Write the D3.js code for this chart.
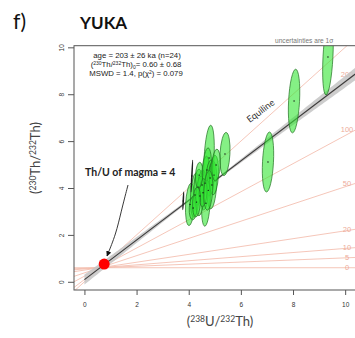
<!DOCTYPE html>
<html>
<head>
<meta charset="utf-8">
<script src="https://cdn.jsdelivr.net/npm/d3@7"></script>
<style>
  body { margin: 0; background: #fff; }
  .tick-label { font-family: "Liberation Sans", Arial, sans-serif; font-size: 6.5px; fill: #333; }
  .annot { font-family: "Liberation Sans", Arial, sans-serif; font-size: 7.8px; fill: #222; }
  .axis-title { font-family: Lato, "Open Sans", sans-serif; font-size: 13px; fill: #444; }
  .iso-label { font-family: "Liberation Sans", Arial, sans-serif; font-size: 7.5px; fill: #eeac9a; }
</style>
</head>
<body>
<div id="chart"></div>
<script>
// Th-U isochron (230Th/232Th vs 238U/232Th), YUKA

const xTicks = [0, 2, 4, 6, 8, 10];
const yTicks = [0, 2, 4, 6, 8, 10];

// reference isochron ages in ka
const isoAges = [0, 5, 10, 20, 50, 100, 200];

// fitted isochron
const fitAge = 203;        // ka
const fitInitRatio = 0.60; // (230Th/232Th)0
const magmaThU = 4;

// analyses: centre and 1 sigma half widths
const ellipses = [
    { x: 9.34, y: 9.59, sx: 0.19, sy: 1.62 },
    { x: 8.04, y: 7.71, sx: 0.21, sy: 1.36 },
    { x: 7.04, y: 5.11, sx: 0.21, sy: 1.28 },
    { x: 5.39, y: 5.45, sx: 0.19, sy: 0.92 },
    { x: 4.78, y: 5.28, sx: 0.19, sy: 1.40 },
    { x: 4.05, y: 3.30, sx: 0.17, sy: 0.90 },
    { x: 4.24, y: 3.70, sx: 0.17, sy: 0.94 },
    { x: 4.36, y: 4.04, sx: 0.16, sy: 0.77 },
    { x: 4.51, y: 4.13, sx: 0.15, sy: 0.64 },
    { x: 4.63, y: 4.21, sx: 0.17, sy: 1.15 },
    { x: 4.70, y: 4.77, sx: 0.17, sy: 0.94 },
    { x: 4.82, y: 4.43, sx: 0.16, sy: 0.77 },
    { x: 4.89, y: 4.13, sx: 0.18, sy: 1.02 },
    { x: 4.66, y: 3.35, sx: 0.16, sy: 0.98 },
    { x: 4.17, y: 3.15, sx: 0.15, sy: 0.51 },
    { x: 4.97, y: 4.55, sx: 0.17, sy: 0.85 },
    { x: 4.43, y: 3.66, sx: 0.16, sy: 0.85 },
    { x: 5.05, y: 4.98, sx: 0.16, sy: 0.68 },
    { x: 4.55, y: 3.80, sx: 0.15, sy: 0.60 },
    { x: 4.30, y: 3.40, sx: 0.15, sy: 0.64 },
    { x: 4.75, y: 3.90, sx: 0.17, sy: 0.85 },
    { x: 4.40, y: 4.55, sx: 0.14, sy: 0.55 },
    { x: 4.12, y: 4.51, sx: 0.01, sy: 0.68 },
    { x: 3.79, y: 3.45, sx: 0.01, sy: 0.38 }
];

const lambda230 = 9.1577e-3; // per ka

function createChart() {
    const W = 355, H = 338;
    const plot = { left: 74, right: 355.6, top: 45.7, bottom: 290 };

    const x = d3.scaleLinear().domain([-0.4, 10.4]).range([plot.left, plot.right]);
    const y = d3.scaleLinear().domain([-0.35, 10.07]).range([plot.bottom, plot.top]);

    const svg = d3.select("#chart").append("svg")
        .attr("width", W).attr("height", H);

    svg.append("defs").append("clipPath").attr("id", "clip")
        .append("rect")
        .attr("x", plot.left).attr("y", plot.top)
        .attr("width", plot.right - plot.left).attr("height", plot.bottom - plot.top);

    const g = svg.append("g").attr("clip-path", "url(#clip)");

    const x0 = x.domain()[0], x1 = x.domain()[1];
    const line = d3.line().x(d => x(d[0])).y(d => y(d[1]));

    // isochrons radiating from the initial ratio on the equiline
    const slopeOf = t => 1 - Math.exp(-lambda230 * t);
    const isoY = (t, xv) => fitInitRatio + slopeOf(t) * (xv - fitInitRatio);

    isoAges.forEach(t => {
        g.append("path")
            .attr("d", line([[x0, isoY(t, x0)], [x1, isoY(t, x1)]]))
            .attr("stroke", "#f3b7a7").attr("stroke-width", 0.8).attr("fill", "none");
    });
    // equiline
    g.append("path")
        .attr("d", line([[x0, x0], [x1, x1]]))
        .attr("stroke", "#f3b7a7").attr("stroke-width", 0.8).attr("fill", "none");

    // isochron age labels at the right edge
    isoAges.forEach(t => {
        g.append("text")
            .attr("class", "iso-label")
            .attr("x", x(10.07))
            .attr("y", y(isoY(t, x1)))
            .attr("text-anchor", "middle")
            .attr("dominant-baseline", "central")
            .text(t);
    });

    // confidence band of the fit
    const fitSlope = slopeOf(fitAge);
    const fitY = xv => fitInitRatio + fitSlope * (xv - fitInitRatio);
    const halfW = xv => Math.sqrt(0.05 * 0.05 + Math.pow(0.045 * (xv - 4.6), 2));
    const bandX = d3.range(0, 10.5, 0.1);
    g.append("path")
        .attr("d", d3.area()
            .x(d => x(d))
            .y0(d => y(fitY(d) - halfW(d)))
            .y1(d => y(fitY(d) + halfW(d)))(bandX))
        .attr("fill", "#c4c4c4").attr("opacity", 0.85);

    g.append("path")
        .attr("d", line([[0, fitY(0)], [x1, fitY(x1)]]))
        .attr("stroke", "#3a3a3a").attr("stroke-width", 1.1).attr("fill", "none");

    // error ellipses
    const eg = g.append("g");
    ellipses.forEach(d => {
        eg.append("ellipse")
            .attr("cx", x(d.x)).attr("cy", y(d.y))
            .attr("rx", Math.max(0.3, x(d.sx) - x(0)))
            .attr("ry", y(0) - y(d.sy))
            .attr("transform", `rotate(3, ${x(d.x)}, ${y(d.y)})`)
            .attr("fill", d.sx < 0.05 ? "none" : "#33e633")
            .attr("fill-opacity", 0.6)
            .attr("stroke", d.sx < 0.05 ? "#222" : "#237223")
            .attr("stroke-width", d.sx < 0.05 ? 1 : 0.7);
    });
    ellipses.forEach(d => {
        eg.append("circle")
            .attr("cx", x(d.x)).attr("cy", y(d.y))
            .attr("r", 0.7).attr("fill", "#111");
    });

    // Th/U of magma point
    const magmaX = 3.03 / magmaThU;
    g.append("circle")
        .attr("cx", x(magmaX)).attr("cy", y(magmaX))
        .attr("r", 5.5).attr("fill", "#ff0000");

    // box
    svg.append("rect")
        .attr("x", plot.left).attr("y", plot.top)
        .attr("width", plot.right - plot.left).attr("height", plot.bottom - plot.top)
        .attr("fill", "none").attr("stroke", "#555").attr("stroke-width", 1);

    // axes
    const xAxis = svg.append("g")
        .attr("transform", `translate(0, ${plot.bottom})`)
        .call(d3.axisBottom(x).tickValues(xTicks).tickSize(5).tickPadding(7));
    xAxis.select(".domain").remove();
    xAxis.selectAll("line").attr("stroke", "#555");
    xAxis.selectAll("text").attr("class", "tick-label").attr("font-size", null).attr("font-family", null);

    const yAxis = svg.append("g")
        .attr("transform", `translate(${plot.left}, 0)`)
        .call(d3.axisLeft(y).tickValues(yTicks).tickSize(6).tickPadding(0));
    yAxis.select(".domain").remove();
    yAxis.selectAll("line").attr("stroke", "#555");
    yAxis.selectAll("text")
        .attr("class", "tick-label").attr("font-size", null).attr("font-family", null)
        .attr("x", null).attr("dy", null)
        .attr("text-anchor", "middle")
        .attr("transform", "translate(-12, 0) rotate(-90)")
        .attr("dy", "0.35em");

    // axis titles
    const xt = svg.append("text").attr("class", "axis-title")
        .attr("x", 220).attr("y", 326).attr("text-anchor", "middle");
    xt.append("tspan").text("(");
    xt.append("tspan").attr("font-size", "8.5px").attr("dy", -4.5).text("238");
    xt.append("tspan").attr("dy", 4.5).text("U/");
    xt.append("tspan").attr("font-size", "8.5px").attr("dy", -4.5).text("232");
    xt.append("tspan").attr("dy", 4.5).text("Th)");

    const yt = svg.append("text").attr("class", "axis-title")
        .attr("transform", "translate(40, 158) rotate(-90)")
        .attr("text-anchor", "middle");
    yt.append("tspan").text("(");
    yt.append("tspan").attr("font-size", "8.5px").attr("dy", -4.5).text("230");
    yt.append("tspan").attr("dy", 4.5).text("Th/");
    yt.append("tspan").attr("font-size", "8.5px").attr("dy", -4.5).text("232");
    yt.append("tspan").attr("dy", 4.5).text("Th)");

    // titles
    svg.append("text").attr("x", 13).attr("y", 29)
        .attr("font-family", "Lato, sans-serif").attr("font-size", 21).attr("fill", "#111")
        .text("f)");
    svg.append("text").attr("x", 80).attr("y", 29)
        .attr("font-family", "Lato, sans-serif").attr("font-size", 17).attr("font-weight", "bold").attr("fill", "#111")
        .text("YUKA");
    svg.append("text").attr("x", 275).attr("y", 43)
        .attr("font-family", "Liberation Sans, Arial, sans-serif").attr("font-size", 6.6).attr("fill", "#777")
        .text("uncertainties are 1\u03c3");

    // fit annotation
    const annot = svg.append("g");
    annot.append("text").attr("class", "annot").attr("x", 137).attr("y", 58)
        .attr("text-anchor", "middle").text("age = 203 \u00b1 26 ka (n=24)");
    const a2 = annot.append("text").attr("class", "annot").attr("x", 136).attr("y", 67)
        .attr("text-anchor", "middle");
    a2.append("tspan").text("(");
    a2.append("tspan").attr("font-size", "5px").attr("dy", -2.5).text("230");
    a2.append("tspan").attr("dy", 2.5).text("Th/");
    a2.append("tspan").attr("font-size", "5px").attr("dy", -2.5).text("232");
    a2.append("tspan").attr("dy", 2.5).text("Th)");
    a2.append("tspan").attr("font-size", "5px").attr("dy", 1.5).text("0");
    a2.append("tspan").attr("dy", -1.5).text("= 0.60 \u00b1 0.68");
    const a3 = annot.append("text").attr("class", "annot").attr("x", 136).attr("y", 76)
        .attr("text-anchor", "middle");
    a3.append("tspan").text("MSWD = 1.4, p(\u03c7");
    a3.append("tspan").attr("font-size", "5px").attr("dy", -2.5).text("2");
    a3.append("tspan").attr("dy", 2.5).text(") = 0.079");

    // magma label and arrow
    svg.append("text").attr("x", 85).attr("y", 176)
        .attr("font-family", "Lato, sans-serif").attr("font-size", 10.5).attr("font-weight", "bold").attr("fill", "#222")
        .text("Th/U of magma = 4");

    svg.append("defs").append("marker")
        .attr("id", "arrow").attr("viewBox", "0 0 10 10")
        .attr("refX", 9).attr("refY", 5)
        .attr("markerWidth", 6).attr("markerHeight", 6)
        .attr("orient", "auto-start-reverse")
        .append("path").attr("d", "M0,0 L10,5 L0,10 z").attr("fill", "#111");

    svg.append("path")
        .attr("d", d3.line().curve(d3.curveBasis)([[128, 185], [121, 212], [116, 234], [107, 256]]))
        .attr("fill", "none").attr("stroke", "#222").attr("stroke-width", 0.9)
        .attr("marker-end", "url(#arrow)");

    // equiline label
    svg.append("text")
        .attr("transform", `translate(${x(6.75)}, ${y(7.3)}) rotate(-37)`)
        .attr("text-anchor", "middle").attr("dominant-baseline", "central")
        .attr("font-family", "Lato, sans-serif").attr("font-size", 9.2).attr("fill", "#333")
        .text("Equiline");
}

createChart();
</script>
</body>
</html>
